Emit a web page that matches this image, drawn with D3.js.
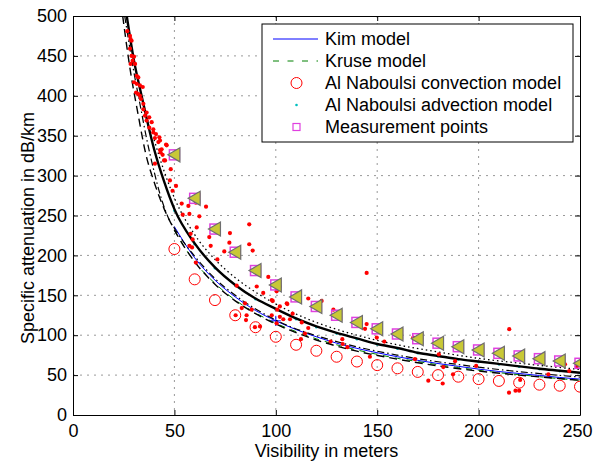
<!DOCTYPE html>
<html>
<head>
<meta charset="utf-8">
<script src="https://cdn.jsdelivr.net/npm/d3@7"></script>
<style>
  body { margin: 0; background: #fff; }
  svg { display: block; font-family: "Liberation Sans", Arial, sans-serif; }
</style>
</head>
<body>
<div id="chartDiv"></div>
<script>
// model curves sampled every 10 m
var visSteps = [50, 60, 70, 80, 90, 100, 110, 120, 130, 140, 150, 160, 170, 180, 190, 200, 210, 220, 230, 240, 250];
var kimValues = [236, 197, 169, 148, 131, 118, 107, 98, 90, 83.5, 78, 73, 68.5, 64.5, 61, 57.5, 54.5, 52, 49.5, 47, 45];
var kruseValues = [231, 192, 165, 144, 128, 115, 104.5, 95.5, 88, 81.5, 76, 71, 67, 63, 59.5, 56, 53, 50.5, 48, 45.5, 43.5];
var convectionValues = [208, 170, 144, 125, 110, 98, 88, 80.5, 73, 67, 62.5, 58.5, 54, 50, 48, 45, 42.7, 40.5, 38, 36.7, 35.5];
var advectionValues = [256, 214, 184, 162, 145, 132, 120, 110, 102, 95, 88.5, 83, 77.5, 73.5, 69.5, 66.5, 63.5, 60.5, 57.5, 55, 52.5];
var measuredValues = [326, 271.5, 233, 204, 181, 163, 148, 136, 125, 116, 108, 101.5, 95.6, 90, 85.6, 81.5, 77.3, 74, 70.6, 67.7, 64.8];

// black fitted curves
var solidVis = [26.5, 30, 34, 40, 45, 50, 60, 70, 80, 90, 100, 110, 120, 130, 140, 150, 160, 170, 180, 190, 200, 210, 220, 230, 240, 250];
var solidValues = [500, 445, 398, 333, 292, 258, 215, 185, 163, 146, 133, 121, 111, 103, 96, 89, 84, 78, 74, 70, 67, 64, 61, 58, 55.5, 53];
var dashVis = [24.5, 28, 32, 36, 40, 45, 50, 60, 70, 80, 90, 100, 120, 140, 160, 180, 200, 220, 250];
var dashValues = [500, 436, 378, 326, 292, 258, 232, 192, 164, 143, 127, 114, 94, 80, 70, 61.5, 55, 50, 43.5];
var dashDotVis = [25.5, 28, 30, 33, 36, 40, 43, 48, 50, 55, 60, 70, 80, 100, 130, 160, 200, 250];
var dashDotValues = [500, 460, 430, 390, 350, 305, 276, 242, 234, 215, 199, 171, 150, 119, 92, 75, 60, 47.5];
var dotVis = [40, 45, 50, 60, 70, 80, 90, 100, 120, 140, 160, 180, 200, 220, 250];
var dotValues = [345, 305, 272, 226, 195, 172, 154, 139, 116, 100, 88, 79, 71, 65, 57];

// scattered red samples
var redVis = [26.8, 28.1, 28.4, 28.9, 28.1, 28.9, 30.1, 29.4, 28.4, 30.6, 31.4, 32.2, 30.1, 31.4, 33.0, 34.4, 31.1, 32.2, 33.0, 33.5,
  34.7, 34.7, 36.3, 35.5, 37.6, 36.3, 38.8, 37.6, 39.6, 39.6, 40.9, 40.4, 42.6, 42.1, 42.9, 45.9, 43.7, 43.2, 44.9, 46.2,
  42.9, 44.2, 40.4, 48.2, 45.4, 47.8, 50.8, 49.1, 53.6, 56.9, 60.6, 65.6, 54.1, 57.4, 62.3, 61, 58, 67.2, 59, 67.9,
  57.4, 71.2, 60.6, 58.7, 86.9, 77.4, 77.1, 86.9, 88.6, 74.6, 96.3, 93.8, 90.6, 100.4, 105.4, 102, 98, 80.7, 84.8, 88.1,
  85.6, 85.3, 83.2, 92.2, 98, 100.4, 80.2, 89.7, 144.8, 102, 98.5, 100.7, 105.7, 116, 122.6, 108.3, 102, 107, 103.7, 112.8,
  116, 128.4, 114.4, 144.8, 144, 149.8, 153.5, 132.8, 112.4, 127, 133, 135.3, 167.8, 146.4, 168.6, 180.4, 182.6, 175.2, 182.3, 188.4,
  198.8, 187.4, 215.1, 220.5, 215, 218.2, 220, 234.4, 242.6, 244.7, 248.4];
var redAtt = [481, 475, 471, 469, 459, 450, 449, 444, 440, 440, 425, 423, 417, 415, 413, 411, 404, 402, 400, 396,
  390, 383, 379, 375, 373, 369, 367, 360, 358, 354, 352, 347, 348, 342, 344, 339, 333, 329, 319, 338,
  332, 326, 315, 308, 319, 294, 287, 281, 265, 262, 266, 261, 251, 252, 249, 235, 227, 223, 220, 212,
  212, 195, 191, 210, 239, 228, 216, 214, 206, 205, 173, 153, 161, 155, 140, 136, 144, 162, 140, 132,
  125, 119, 134, 111, 125, 115, 125, 110, 178, 161, 143, 132, 139, 146, 143, 127, 123, 120, 120, 116,
  109, 132, 102, 114, 108, 97, 92, 95, 95, 92, 89, 85, 97, 73, 70, 76, 60, 43, 39.5, 67.5,
  61.5, 51, 107.5, 44, 28, 30.5, 30.5, 51, 63.5, 55, 60.5];

var legendLabels = ["Kim model", "Kruse model", "Al Naboulsi convection model", "Al Naboulsi advection model", "Measurement points"];
var xTicks = [0, 50, 100, 150, 200, 250];
var yTicks = [0, 50, 100, 150, 200, 250, 300, 350, 400, 450, 500];

;(function() {

	var width = 594;
	var height = 461;
	var margin = { top: 16, right: 14, bottom: 46, left: 73 };
	var chartWidth = width - margin.left - margin.right;
	var chartHeight = height - margin.top - margin.bottom;

	var chart = d3.select("#chartDiv").append("svg")
		.attr("width", width)
		.attr("height", height);

	var xScale = d3.scaleLinear().domain([0, 250]).range([0, chartWidth]);
	var yScale = d3.scaleLinear().domain([0, 500]).range([chartHeight, 0]);

	chart.append("defs").append("clipPath").attr("id", "plotClip")
		.append("rect").attr("width", chartWidth).attr("height", chartHeight);

	var plotArea = chart.append("g")
		.attr("transform", "translate(" + margin.left + "," + margin.top + ")");

	// dotted grid
	plotArea.append("g").selectAll("line").data(xTicks.slice(1, -1)).enter().append("line")
		.attr("x1", xScale).attr("x2", xScale)
		.attr("y1", 0).attr("y2", chartHeight)
		.attr("stroke", "#999").attr("stroke-dasharray", "2,5");
	plotArea.append("g").selectAll("line").data(yTicks.slice(1, -1)).enter().append("line")
		.attr("y1", yScale).attr("y2", yScale)
		.attr("x1", 0).attr("x2", chartWidth)
		.attr("stroke", "#999").attr("stroke-dasharray", "2,5");

	var marks = plotArea.append("g").attr("clip-path", "url(#plotClip)");

	function curve(xs, ys, color, widthPx, dash) {
		var line = d3.line()
			.x(function(d) { return xScale(d[0]); })
			.y(function(d) { return yScale(d[1]); })
			.curve(d3.curveMonotoneX);
		marks.append("path")
			.datum(xs.map(function(x, i) { return [x, ys[i]]; }))
			.attr("d", line)
			.attr("fill", "none")
			.attr("stroke", color)
			.attr("stroke-width", widthPx)
			.attr("stroke-dasharray", dash || null);
	}

	curve(visSteps, kimValues, "#0000ff", 1);
	curve(visSteps, kruseValues, "#008000", 1, "6,6");

	// blue cross on kim curve at 100 m
	marks.append("g").selectAll("line").data([[-5, 0, 5, 0], [0, -5, 0, 5]]).enter().append("line")
		.attr("transform", "translate(" + xScale(visSteps[5]) + "," + yScale(kimValues[5]) + ")")
		.attr("x1", function(d) { return d[0]; }).attr("y1", function(d) { return d[1]; })
		.attr("x2", function(d) { return d[2]; }).attr("y2", function(d) { return d[3]; })
		.attr("stroke", "#0000ff");

	marks.append("g").selectAll("circle").data(visSteps).enter().append("circle")
		.attr("cx", function(d) { return xScale(d); })
		.attr("cy", function(d, i) { return yScale(convectionValues[i]); })
		.attr("r", 5.5)
		.attr("fill", "none")
		.attr("stroke", "#ff0000");

	marks.append("g").selectAll("circle").data(visSteps).enter().append("circle")
		.attr("cx", function(d) { return xScale(d); })
		.attr("cy", function(d, i) { return yScale(advectionValues[i]); })
		.attr("r", 1.3)
		.attr("fill", "#00bfbf");

	// fitted black curves
	curve(dashVis, dashValues, "#000", 1.4, "8,5");
	curve(dashDotVis, dashDotValues, "#000", 1.2, "7,3,1.5,3");
	curve(dotVis, dotValues, "#000", 1.3, "1.5,3");
	curve(solidVis, solidValues, "#000", 2.4);

	marks.append("g").selectAll("circle").data(redVis).enter().append("circle")
		.attr("cx", function(d) { return xScale(d); })
		.attr("cy", function(d, i) { return yScale(redAtt[i]); })
		.attr("r", 2.1)
		.attr("fill", "#ff0000");

	// measurement points: magenta square under an olive triangle
	marks.append("g").selectAll("rect").data(visSteps).enter().append("rect")
		.attr("x", function(d) { return xScale(d) - 5; })
		.attr("y", function(d, i) { return yScale(measuredValues[i]) - 5; })
		.attr("width", 10).attr("height", 10)
		.attr("fill", "none")
		.attr("stroke", "#e040e0")
		.attr("stroke-width", 1.5);

	marks.append("g").selectAll("path").data(visSteps).enter().append("path")
		.attr("transform", function(d, i) { return "translate(" + xScale(d) + "," + yScale(measuredValues[i]) + ")"; })
		.attr("d", "M-6.5,0L5.5,-7L5.5,7Z")
		.attr("fill", "#c8c836")
		.attr("stroke", "#6e6e6e")
		.attr("stroke-width", 1.2);

	// axes, ticks inside like matlab
	var fontSize = "18px";
	function styleAxis(g) {
		g.select(".domain").attr("stroke", "#000");
		g.selectAll(".tick line").attr("stroke", "#000");
		g.selectAll(".tick text").style("font-size", fontSize).attr("fill", "#000");
	}

	plotArea.append("g")
		.attr("transform", "translate(0," + chartHeight + ")")
		.call(d3.axisBottom(xScale).tickValues(xTicks).tickSizeInner(-5).tickSizeOuter(0).tickPadding(8))
		.call(styleAxis)
		.call(function(g) {
			g.selectAll(".tick text").attr("dy", "0.75em");
			g.selectAll(".tick text").filter(function(d) { return d === 250; }).attr("dx", "-3");
		});

	plotArea.append("g")
		.call(d3.axisTop(xScale).tickValues(xTicks).tickSizeInner(-5).tickSizeOuter(0).tickFormat(""))
		.call(styleAxis);

	plotArea.append("g")
		.call(d3.axisLeft(yScale).tickValues(yTicks).tickSizeInner(-5).tickSizeOuter(0).tickPadding(6))
		.call(styleAxis);

	plotArea.append("g")
		.attr("transform", "translate(" + chartWidth + ",0)")
		.call(d3.axisRight(yScale).tickValues(yTicks).tickSizeInner(-5).tickSizeOuter(0).tickFormat(""))
		.call(styleAxis);

	chart.append("text")
		.attr("x", margin.left + chartWidth / 2)
		.attr("y", 457)
		.attr("text-anchor", "middle")
		.style("font-size", fontSize)
		.text("Visibility in meters");

	chart.append("text")
		.attr("transform", "translate(34,228) rotate(-90)")
		.attr("text-anchor", "middle")
		.style("font-size", fontSize)
		.text("Specific attenuation in dB/km");

	// legend
	var legend = chart.append("g").attr("transform", "translate(262,24)");
	legend.append("rect")
		.attr("width", 311).attr("height", 118)
		.attr("fill", "#fff").attr("stroke", "#000");

	var rowY = [15, 37, 59, 81, 103];
	legend.selectAll("text").data(legendLabels).enter().append("text")
		.attr("x", 63)
		.attr("y", function(d, i) { return rowY[i]; })
		.attr("dy", "0.35em")
		.style("font-size", fontSize)
		.text(function(d) { return d; });

	legend.append("line").attr("x1", 11).attr("x2", 56).attr("y1", rowY[0]).attr("y2", rowY[0])
		.attr("stroke", "#0000ff");
	legend.append("line").attr("x1", 11).attr("x2", 56).attr("y1", rowY[1]).attr("y2", rowY[1])
		.attr("stroke", "#008000").attr("stroke-dasharray", "6,8.5");
	legend.append("circle").attr("cx", 34.5).attr("cy", rowY[2]).attr("r", 5.5)
		.attr("fill", "none").attr("stroke", "#ff0000");
	legend.append("circle").attr("cx", 34.5).attr("cy", rowY[3]).attr("r", 1.3)
		.attr("fill", "#00bfbf");
	legend.append("rect").attr("x", 31).attr("y", rowY[4] - 3.5).attr("width", 7).attr("height", 7)
		.attr("fill", "none").attr("stroke", "#e040e0").attr("stroke-width", 1.2);

})();
</script>
</body>
</html>
